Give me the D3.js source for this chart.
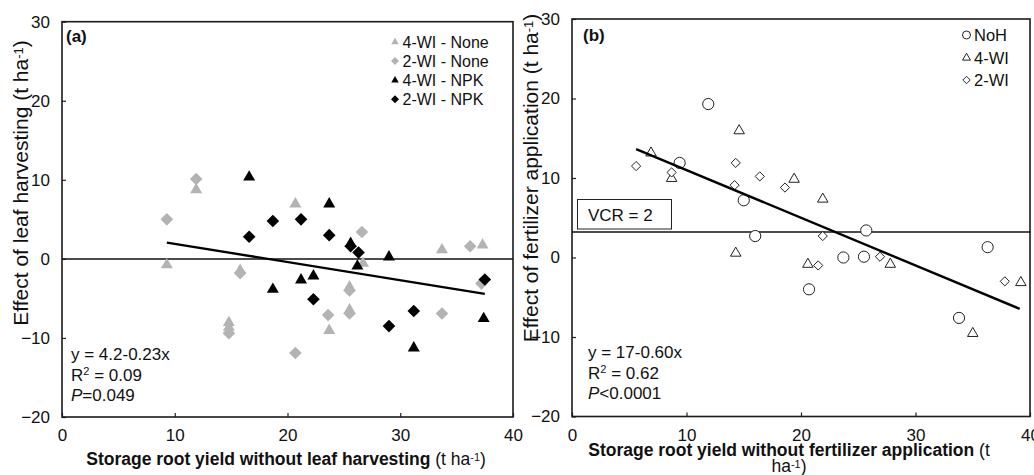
<!DOCTYPE html>
<html><head><meta charset="utf-8">
<script src="https://cdn.jsdelivr.net/npm/d3@7"></script>
<style>
body{margin:0;background:#fff;}
svg text{font-family:"Liberation Sans",Arial,sans-serif;}
</style></head>
<body><svg id="c" width="1034" height="475"></svg>
<script>
// ---------- Panel (a) data ----------
const a_4WI_None_x = [9.3, 11.9, 14.8, 14.8, 15.8, 20.7, 23.7, 25.5, 25.5, 26.7, 33.7, 37.3];
const a_4WI_None_y = [-0.7, 8.8, -8.0, -8.6, -1.4, 7.0, -9.0, -3.5, -6.4, -0.5, 1.2, 1.8];
const a_2WI_None_x = [9.3, 11.9, 14.8, 15.8, 20.7, 23.6, 25.5, 25.5, 26.6, 33.7, 36.2, 37.2];
const a_2WI_None_y = [5.0, 10.1, -9.4, -1.8, -11.9, -7.1, -4.0, -6.9, 3.4, -6.9, 1.6, -3.1];
const a_4WI_NPK_x = [16.6, 18.7, 21.2, 22.3, 23.7, 25.6, 26.2, 29.0, 31.2, 37.4];
const a_4WI_NPK_y = [10.4, -3.8, -2.6, -2.1, 7.0, 2.0, -0.85, 0.3, -11.2, -7.5];
const a_2WI_NPK_x = [16.6, 18.7, 21.2, 22.3, 23.7, 25.6, 26.3, 29.0, 31.2, 37.5];
const a_2WI_NPK_y = [2.8, 4.8, 5.0, -5.1, 3.0, 1.6, 0.8, -8.5, -6.6, -2.6];
const a_fit = {intercept: 4.2, slope: -0.23, xmin: 9.3, xmax: 37.5};
const a_legend = ["4-WI - None", "2-WI - None", "4-WI - NPK", "2-WI - NPK"];
const a_stats = ["y = 4.2-0.23x", "0.09", "=0.049"];

// ---------- Panel (b) data ----------
const b_NoH_x = [11.9, 9.4, 15.0, 16.0, 25.7, 23.7, 25.5, 20.7, 36.3, 33.8];
const b_NoH_y = [19.3, 11.9, 7.2, 2.7, 3.4, 0.0, 0.1, -4.0, 1.3, -7.6];
const b_4WI_x = [6.9, 8.7, 14.6, 14.3, 19.4, 21.9, 20.6, 27.8, 35.0, 39.2];
const b_4WI_y = [13.2, 10.0, 16.0, 0.6, 9.9, 7.4, -0.8, -0.8, -9.5, -3.1];
const b_2WI_x = [5.6, 8.7, 14.3, 14.2, 16.4, 18.6, 21.9, 21.5, 26.9, 37.8];
const b_2WI_y = [11.5, 10.7, 11.9, 9.1, 10.2, 8.8, 2.7, -1.0, 0.1, -3.0];
const b_fit = {intercept: 17, slope: -0.60, xmin: 5.6, xmax: 39.1};
const b_vcr = 3.2;
const b_legend = ["NoH", "4-WI", "2-WI"];
const b_stats = ["y = 17-0.60x", "0.62", "<0.0001"];

const xTicks = [0, 10, 20, 30, 40];
const yTicks = [-20, -10, 0, 10, 20, 30];

const svg = d3.select("#c");
const LIGHT = "#b3b3b3";
const INK = "#111";

function tri(cx, cy, w) { const h = w * 0.866; return `M${cx},${cy - h*0.62}L${cx + w/2},${cy + h*0.38}L${cx - w/2},${cy + h*0.38}Z`; }
function dia(cx, cy, r) { return `M${cx},${cy - r}L${cx + r},${cy}L${cx},${cy + r}L${cx - r},${cy}Z`; }

function panel(cfg) {
  const x = d3.scaleLinear().domain([0, 40]).range([cfg.x0, cfg.x1]);
  const y = d3.scaleLinear().domain([-20, 30]).range([cfg.y1, cfg.y0]);
  const g = svg.append("g");
  const xa = g.append("g").attr("transform", `translate(0,${cfg.y1})`)
    .call(d3.axisBottom(x).tickValues(xTicks).tickSizeInner(-4).tickSizeOuter(0).tickPadding(12));
  const ya = g.append("g").attr("transform", `translate(${cfg.x0},0)`)
    .call(d3.axisLeft(y).tickValues(yTicks).tickSizeInner(-4).tickSizeOuter(0).tickPadding(12));
  [xa, ya].forEach(s => {
    s.select(".domain").remove();
    s.selectAll("line").attr("stroke", "#222").attr("stroke-width", 1.2);
    s.selectAll("text").attr("font-size", 17).attr("fill", INK).style("font-family", "'Liberation Sans',Arial,sans-serif");
  });
  g.append("rect").attr("x", cfg.x0).attr("y", cfg.y0).attr("width", cfg.x1 - cfg.x0).attr("height", cfg.y1 - cfg.y0)
    .attr("fill", "none").attr("stroke", "#1a1a1a").attr("stroke-width", 1.6);
  return {x, y, g};
}

function drawTri(P, xs, ys, w, fill, stroke, sw) {
  P.g.append("g").selectAll("path").data(xs.map((d, i) => [d, ys[i]])).join("path")
    .attr("d", d => tri(P.x(d[0]), P.y(d[1]), w)).attr("fill", fill).attr("stroke", stroke).attr("stroke-width", sw);
}
function drawDia(P, xs, ys, r, fill, stroke, sw) {
  P.g.append("g").selectAll("path").data(xs.map((d, i) => [d, ys[i]])).join("path")
    .attr("d", d => dia(P.x(d[0]), P.y(d[1]), r)).attr("fill", fill).attr("stroke", stroke).attr("stroke-width", sw);
}
function fitLine(P, f) {
  P.g.append("line").attr("x1", P.x(f.xmin)).attr("x2", P.x(f.xmax))
    .attr("y1", P.y(f.intercept + f.slope * f.xmin)).attr("y2", P.y(f.intercept + f.slope * f.xmax))
    .attr("stroke", "#000").attr("stroke-width", 2.4);
}
function stats(x0, yb, s) {
  svg.append("text").attr("x", x0).attr("y", yb).attr("font-size", 17).attr("fill", INK).text(s[0]);
  const t2 = svg.append("text").attr("x", x0).attr("y", yb + 20.5).attr("font-size", 17).attr("fill", INK);
  t2.append("tspan").text("R");
  t2.append("tspan").attr("font-size", 11).attr("dy", -6).text("2");
  t2.append("tspan").attr("dy", 6).text(" = " + s[1]);
  const t3 = svg.append("text").attr("x", x0).attr("y", yb + 41).attr("font-size", 17).attr("fill", INK);
  t3.append("tspan").attr("font-style", "italic").text("P");
  t3.append("tspan").text(s[2]);
}

// ===== Panel (a) =====
const A = panel({x0: 62, x1: 513, y0: 21.7, y1: 417});
A.g.append("line").attr("x1", A.x(0)).attr("x2", A.x(40)).attr("y1", A.y(0)).attr("y2", A.y(0))
  .attr("stroke", INK).attr("stroke-width", 1.5);
drawTri(A, a_4WI_None_x, a_4WI_None_y, 12, LIGHT, "none", 0);
drawDia(A, a_2WI_None_x, a_2WI_None_y, 6.3, LIGHT, "none", 0);
drawTri(A, a_4WI_NPK_x, a_4WI_NPK_y, 12, "#000", "none", 0);
drawDia(A, a_2WI_NPK_x, a_2WI_NPK_y, 6.3, "#000", "none", 0);
fitLine(A, a_fit);

svg.append("text").attr("x", 66).attr("y", 42).attr("font-size", 17).attr("font-weight", "bold").attr("fill", INK).text("(a)");
const aLegFill = [LIGHT, LIGHT, "#000", "#000"];
a_legend.forEach((t, i) => {
  const cy = 41.7 + i * 19.2;
  if (i % 2 === 0) svg.append("path").attr("d", tri(395, cy, 7.5)).attr("fill", aLegFill[i]);
  else svg.append("path").attr("d", dia(395, cy, 4)).attr("fill", aLegFill[i]);
  svg.append("text").attr("x", 402.5).attr("y", cy + 6).attr("font-size", 16).attr("fill", INK).text(t);
});
stats(71, 360, a_stats);

// ===== Panel (b) =====
const B = panel({x0: 572, x1: 1030, y0: 19, y1: 416.5});
B.g.append("line").attr("x1", B.x(0)).attr("x2", B.x(40)).attr("y1", B.y(b_vcr)).attr("y2", B.y(b_vcr))
  .attr("stroke", INK).attr("stroke-width", 1.5);
B.g.append("g").selectAll("circle").data(b_NoH_x.map((d, i) => [d, b_NoH_y[i]])).join("circle")
  .attr("cx", d => B.x(d[0])).attr("cy", d => B.y(d[1])).attr("r", 5.6)
  .attr("fill", "#fff").attr("stroke", "#222").attr("stroke-width", 1);
drawTri(B, b_4WI_x, b_4WI_y, 10.5, "#fff", "#222", 1);
drawDia(B, b_2WI_x, b_2WI_y, 4.6, "#fff", "#222", 1);
fitLine(B, b_fit);
svg.append("rect").attr("x", 577.5).attr("y", 199.5).attr("width", 94).attr("height", 29.5)
  .attr("fill", "#fff").attr("stroke", "#222").attr("stroke-width", 1);
svg.append("text").attr("x", 588).attr("y", 220.5).attr("font-size", 17).attr("fill", INK).text("VCR = 2");
svg.append("text").attr("x", 583).attr("y", 41).attr("font-size", 17).attr("font-weight", "bold").attr("fill", INK).text("(b)");
b_legend.forEach((t, i) => {
  const cy = 35 + i * 22.5;
  if (i === 0) svg.append("circle").attr("cx", 966.5).attr("cy", cy).attr("r", 4).attr("fill", "#fff").attr("stroke", "#222").attr("stroke-width", 1);
  else if (i === 1) svg.append("path").attr("d", tri(966.5, cy, 8)).attr("fill", "#fff").attr("stroke", "#222").attr("stroke-width", 1);
  else svg.append("path").attr("d", dia(966.5, cy, 3.7)).attr("fill", "#fff").attr("stroke", "#222").attr("stroke-width", 1);
  svg.append("text").attr("x", 974).attr("y", cy + 6).attr("font-size", 16.5).attr("fill", INK).text(t);
});
stats(588, 358, b_stats);

// ===== Axis titles =====
function sup(t) {
  t.append("tspan").attr("font-size", "0.62em").attr("dy", "-0.4em").text("-1");
  t.append("tspan").attr("dy", "0.25em").text(")");
}
const ta = svg.append("text").attr("x", 286).attr("y", 465).attr("text-anchor", "middle").attr("font-size", 17.5).attr("fill", INK);
ta.append("tspan").attr("font-weight", "bold").text("Storage root yield without  leaf harvesting ");
ta.append("tspan").text("(t ha");
sup(ta);

const tb = svg.append("text").attr("x", 789).attr("y", 456).attr("text-anchor", "middle").attr("font-size", 17.5).attr("fill", INK);
tb.append("tspan").attr("font-weight", "bold").text("Storage root yield without fertilizer application ");
tb.append("tspan").text("(t");
const tb2 = svg.append("text").attr("x", 789).attr("y", 472).attr("text-anchor", "middle").attr("font-size", 17.5).attr("fill", INK);
tb2.append("tspan").text("ha");
sup(tb2);

function yTitle(bx, cy, s) {
  const t = svg.append("text").attr("transform", `translate(${bx},${cy}) rotate(-90)`).attr("text-anchor", "middle")
    .attr("font-size", 21).attr("fill", INK);
  t.append("tspan").text(s);
  sup(t);
}
yTitle(28, 183, "Effect of leaf harvesting (t ha");
yTitle(538, 178, "Effect of fertilizer application (t ha");
</script></body></html>
